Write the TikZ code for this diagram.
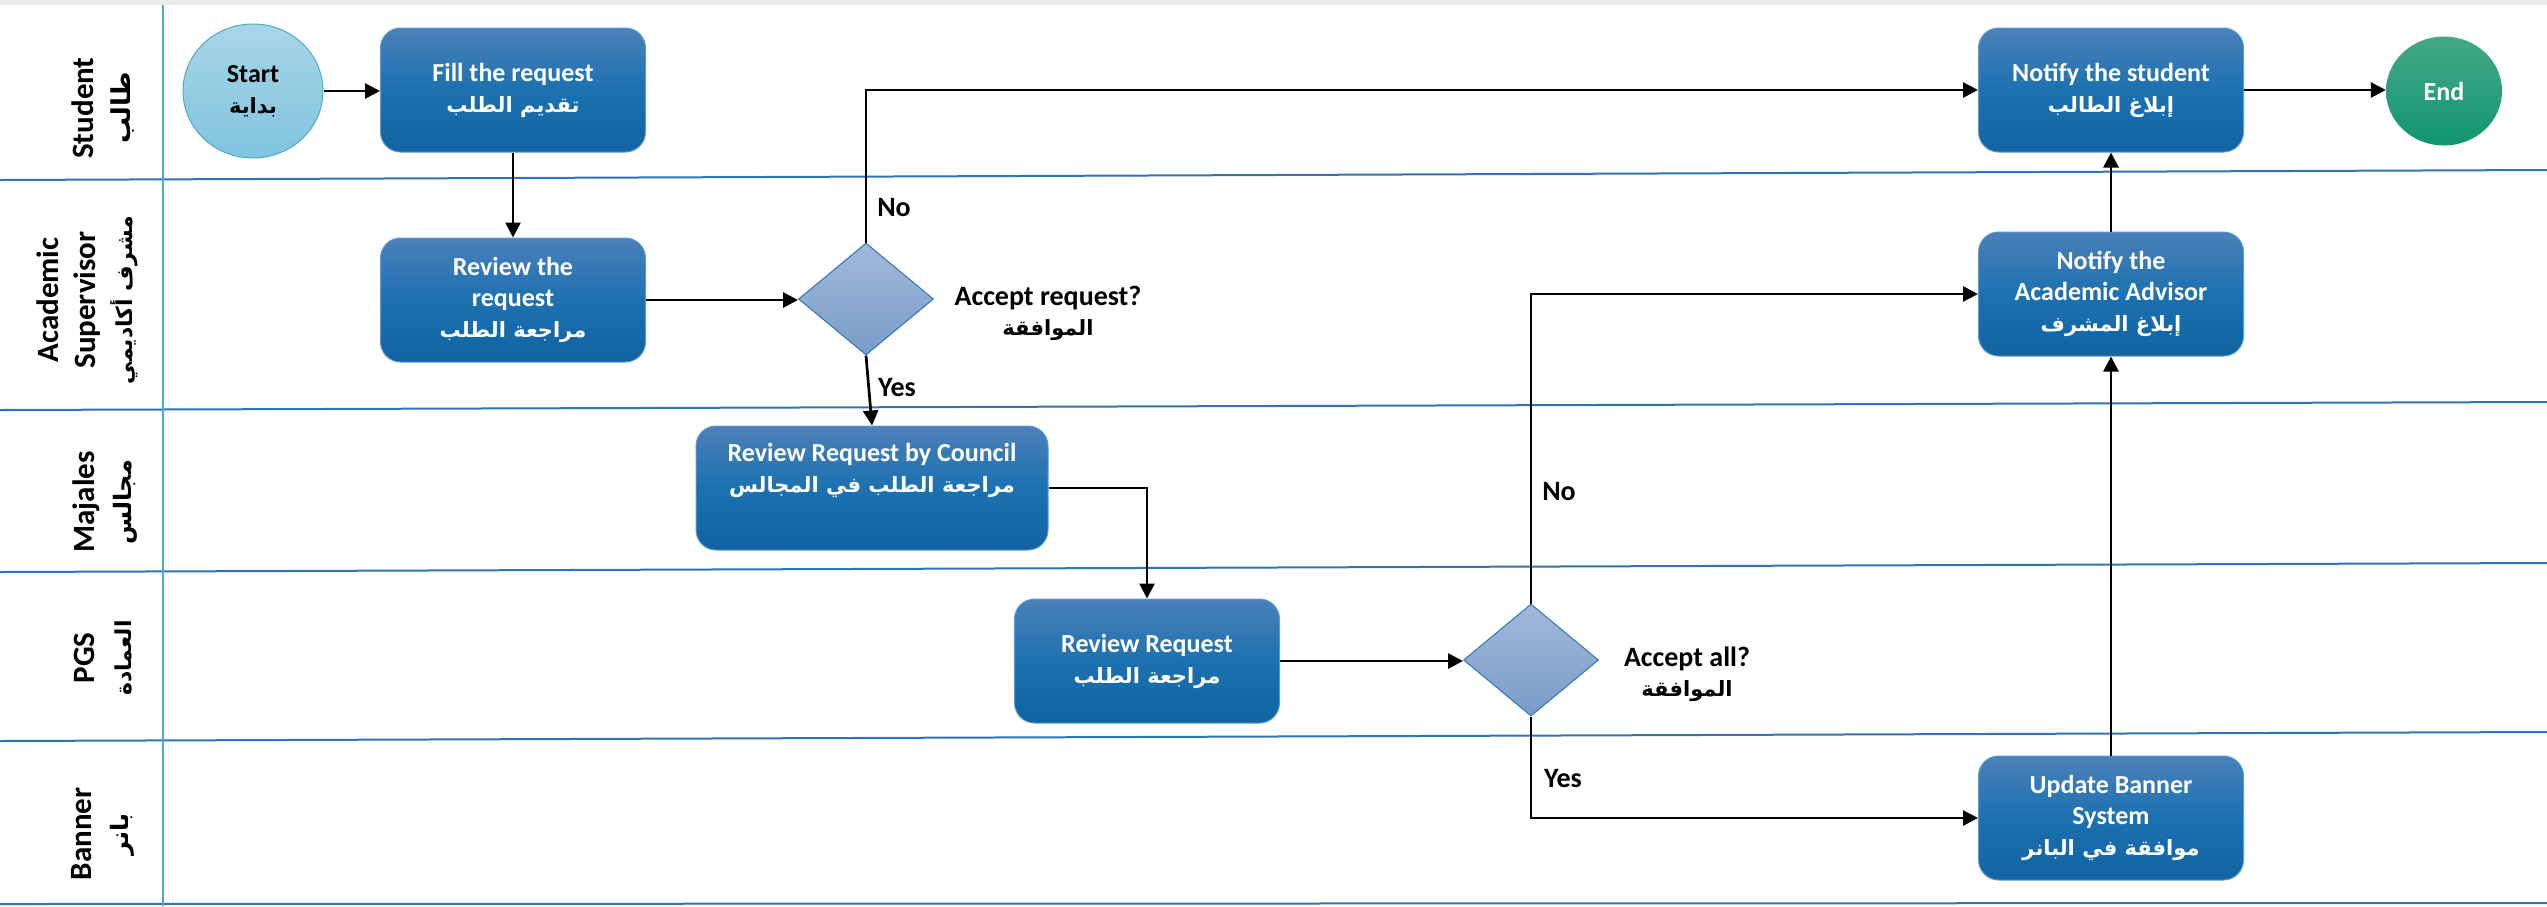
\documentclass[tikz,border=0pt]{standalone}
\usepackage{fontspec}
\setmainfont{Carlito}
\newfontfamily\arfont[Script=Arabic]{DejaVu Sans}
\TeXXeTstate=1
\usetikzlibrary{shapes.geometric,arrows.meta}
\newcommand\AR[2][21]{{\arfont\bfseries\fontsize{#1}{#1}\selectfont\beginR #2\endR}}
\definecolor{boxtop}{RGB}{76,128,184}
\definecolor{boxmid}{RGB}{28,113,177}
\definecolor{boxbot}{RGB}{17,99,161}
\definecolor{boxline}{RGB}{91,155,213}
\definecolor{dtop}{RGB}{162,184,216}
\definecolor{dbot}{RGB}{120,157,200}
\definecolor{dline}{RGB}{46,117,182}
\definecolor{sttop}{RGB}{168,214,231}
\definecolor{stbot}{RGB}{128,196,222}
\definecolor{stline}{RGB}{75,172,198}
\definecolor{entop}{RGB}{70,168,136}
\definecolor{enbot}{RGB}{16,150,110}
\definecolor{lanecol}{RGB}{46,117,182}
\definecolor{vdiv}{RGB}{75,168,212}
\tikzset{
  proc/.style={draw=boxline, line width=1pt, rounded corners=20pt,
    minimum width=265pt, minimum height=124pt, inner sep=0pt,
    top color=boxtop, bottom color=boxbot, middle color=boxmid,
    text=white, align=center, font=\fontsize{26}{31}\selectfont\bfseries},
  decision/.style={diamond, draw=dline, line width=1pt, inner sep=0pt,
    minimum width=135pt, minimum height=112pt, top color=dtop, bottom color=dbot},
  terminal/.style={ellipse, inner sep=0pt, align=center,
    font=\fontsize{26}{31}\selectfont\bfseries},
  arr/.style={line width=2.7pt, -{Triangle[length=15pt,width=15pt]}},
  lbl/.style={align=center, font=\fontsize{28}{30}\selectfont\bfseries},
  lanelbl/.style={rotate=90, align=center, font=\fontsize{31}{37}\selectfont\bfseries},
  laneline/.style={draw=lanecol, line width=2pt}
}
\begin{document}
\begin{tikzpicture}[x=1pt,y=-1pt]
\useasboundingbox (0,0) rectangle (2547,906);
% frame
\draw[black!8, line width=5pt] (0,2.5) -- (2547,2.5);
\draw[laneline] (0,180) -- (2547,170);
\draw[laneline] (0,410) -- (2547,402);
\draw[laneline] (0,572) -- (2547,563);
\draw[laneline] (0,741) -- (2547,732);
\draw[laneline] (0,904) -- (2547,903);
\draw[draw=vdiv, line width=1.5pt] (163,5) -- (163,906);
% lane labels
\node[lanelbl] (lstudent) at (103,108) {Student\\\AR[26]{طالب}};
\node[lanelbl] (lsuper) at (87,300) {Academic\\Supervisor\\\AR[22]{مشرف أكاديمي}};
\node[lanelbl] (lmaj) at (105,502) {Majales\\\AR[24]{مجالس}};
\node[lanelbl] (lpgs) at (103,658) {PGS\\\AR[22]{العمادة}};
\node[lanelbl] (lban) at (103,834) {Banner\\\AR[24]{بانر}};
% nodes
\node[terminal, draw=stline, line width=1pt, top color=sttop, bottom color=stbot,
  minimum width=140pt, minimum height=134pt] (start) at (253,91) {Start\\\AR{بداية}};
\node[proc] (fill) at (513,90) {Fill the request\\\AR{تقديم الطلب}};
\node[proc] (review) at (513,300) {Review the\\request\\\AR{مراجعة الطلب}};
\node[decision] (d1) at (866,299) {};
\node[proc, minimum width=352pt] (council) at (872,488) {Review Request by Council\\\AR{مراجعة الطلب في المجالس}\\\strut};
\node[proc] (rr) at (1147,661) {Review Request\\\AR{مراجعة الطلب}};
\node[decision] (d2) at (1531,660) {};
\node[proc] (notst) at (2111,90) {Notify the student\\\AR{إبلاغ الطالب}};
\node[proc] (notadv) at (2111,294) {Notify the\\Academic Advisor\\\AR{إبلاغ المشرف}};
\node[proc] (banner) at (2111,818) {Update Banner\\System\\\AR{موافقة في البانر}};
\node[terminal, top color=entop, bottom color=enbot, text=white,
  minimum width=116pt, minimum height=109pt] (end) at (2444,91) {End};
% decision labels
\node[lbl] (q1) at (1048,313) {Accept request?\\\AR{الموافقة}};
\node[lbl] (q2) at (1687,674) {Accept all?\\\AR{الموافقة}};
\node[lbl] (no1) at (894,208) {No};
\node[lbl] (yes1) at (897,388) {Yes};
\node[lbl] (no2) at (1559,492) {No};
\node[lbl] (yes2) at (1563,779) {Yes};
% connectors
\draw[arr] (start.east) -- (start.east -| fill.west);
\draw[arr] (fill.south) -- (review.north);
\draw[arr] (review.east) -- (review.east -| d1.west);
\draw[arr] (d1.north) |- (notst.west);
\draw[arr] (d1.south) -- (council.north);
\draw[arr] (council.east) -| (rr.north);
\draw[arr] (rr.east) -- (rr.east -| d2.west);
\draw[arr] (d2.north) |- (notadv.west);
\draw[arr] (d2.south) |- (banner.west);
\draw[arr] (banner.north) -- (notadv.south);
\draw[arr] (notadv.north) -- (notst.south);
\draw[arr] (notst.east) -- (notst.east -| end.west);
\end{tikzpicture}
\end{document}
